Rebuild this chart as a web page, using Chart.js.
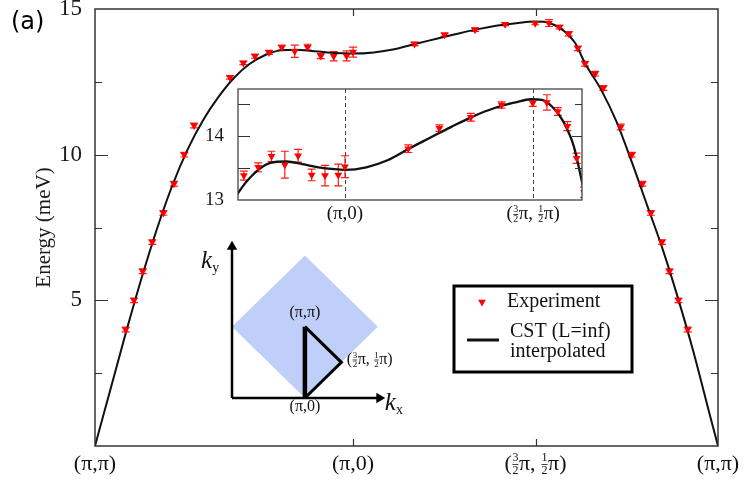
<!DOCTYPE html>
<html>
<head>
<meta charset="utf-8">
<script src="https://cdn.jsdelivr.net/npm/chart.js@4.4.1/dist/chart.umd.min.js"></script>
<style>
  html, body { margin: 0; padding: 0; background: #fff; }
  #wrap { position: relative; width: 745px; height: 485px; overflow: hidden; }
  canvas { position: absolute; }
  #mainChart { left: 0; top: 0; }
  #insetChart { left: 195px; top: 80px; }
  #bzChart { left: 190px; top: 228px; }
  #tag { position: absolute; left: 11px; top: 7px; font: 24px 'DejaVu Sans', sans-serif; color: #000; }
</style>
</head>
<body>
<div id="wrap">
  <canvas id="mainChart" width="745" height="485"></canvas>
  <canvas id="bzChart" width="260" height="200"></canvas>
  <canvas id="insetChart" width="405" height="150"></canvas>
  <div id="tag">(a)</div>
</div>
<script>
(function () {
  'use strict';

  const SERIF = "'Liberation Serif', 'Times New Roman', serif";

  // path (π,π) -> (π,0) -> (3π/2,π/2) -> (π,π), in units of π along the path
  const xTickValues = [0, 1, 1.7071, 2.4142];
  const xTickLabels = ['(π,π)', '(π,0)', '(3/2π, 1/2π)', '(π,π)'];
  const yTickValues = [5, 10, 15];
  const yMinorTicks = [2.5, 7.5, 12.5];

  // CST (L=inf) interpolated
  const curveX = [0, 0.06, 0.12, 0.18, 0.24, 0.30, 0.36, 0.42, 0.48, 0.54, 0.60, 0.66, 0.72, 0.78, 0.84, 0.90, 0.96, 1.00,
    1.08, 1.16, 1.24, 1.32, 1.40, 1.48, 1.56, 1.64, 1.70, 1.74, 1.78, 1.82, 1.86, 1.90, 1.96, 2.02, 2.08, 2.14, 2.20,
    2.26, 2.32, 2.38, 2.4142];
  const curveE = [0, 1.95, 3.9, 5.75, 7.45, 8.95, 10.2, 11.2, 12.0, 12.65, 13.12, 13.42, 13.58, 13.6, 13.56, 13.51, 13.48, 13.47,
    13.51, 13.62, 13.8, 13.97, 14.14, 14.3, 14.43, 14.52, 14.57, 14.56, 14.45, 14.23, 13.84, 13.12, 12.25, 11.15, 9.75, 8.25, 6.75,
    5.05, 3.2, 1.15, 0];

  // Experiment
  const expX = [0.119, 0.151, 0.185, 0.222, 0.265, 0.306, 0.346, 0.384, 0.523, 0.575, 0.620, 0.674, 0.724, 0.774, 0.824,
    0.875, 0.925, 0.975, 1.000, 1.238, 1.355, 1.473, 1.589, 1.706, 1.759, 1.800, 1.836, 1.871, 1.899, 1.938, 1.970,
    2.037, 2.080, 2.121, 2.154, 2.197, 2.226, 2.261, 2.297];
  const expE = [4.0, 5.0, 6.0, 7.0, 8.0, 9.0, 10.0, 11.0, 12.65, 13.15, 13.38, 13.51, 13.68, 13.55, 13.69,
    13.39, 13.38, 13.39, 13.52, 13.8, 14.12, 14.29, 14.48, 14.51, 14.52, 14.38, 14.15, 13.65, 13.12, 12.78, 12.29,
    10.95, 10.0, 9.0, 8.0, 7.0, 6.0, 5.0, 4.0];
  const expErr = [0.08, 0.08, 0.08, 0.08, 0.08, 0.08, 0.08, 0.08, 0.06, 0.06, 0.07, 0.07, 0.08, 0.21, 0.1,
    0.09, 0.16, 0.17, 0.17, 0.06, 0.05, 0.06, 0.05, 0.05, 0.12, 0.06, 0.07, 0.08, 0.08, 0.08, 0.08,
    0.1, 0.08, 0.08, 0.08, 0.08, 0.08, 0.08, 0.08];

  // inset
  const insetXRange = [0.598, 1.891];
  const insetYRange = [13, 14.73];
  const insetYTicks = [13, 14];
  const insetYMinor = [13.5, 14.5];
  const insetMarks = [1, 1.7071];
  const insetMarkLabels = ['(π,0)', '(3/2π, 1/2π)'];

  // Brillouin zone sketch, k in units of π
  const bzDiamond = [[0, 1], [1, 2], [2, 1], [1, 0], [0, 1]];
  const bzPath = [[1, 1], [1, 0], [1.5, 0.5], [1, 1]];
  const bzKyAxis = [[0, 0], [0, 2.12]];
  const bzKxAxis = [[0, 0], [2.02, 0]];
  const bzLabelText = ['(π,π)', '(3/2π, 1/2π)', '(π,0)', 'k_y', 'k_x'];
  const bzLabelX = [1, 1.575, 1, -0.3, 2.22];
  const bzLabelY = [1.19, 0.54, -0.12, 1.92, -0.07];
  const bzLabelAlign = ['center', 'left', 'center', 'center', 'center'];

  const pts = (xs, ys) => xs.map((x, i) => ({ x: x, y: ys[i] }));
  const pairs = (arr) => arr.map((p) => ({ x: p[0], y: p[1] }));

  // text with stacked fractions ("3/2") and subscripts ("_y")
  function drawLabel(ctx, text, cx, cy, size, opts) {
    opts = opts || {};
    const style = opts.italic ? 'italic ' : '';
    const small = Math.round(size * 0.55);
    const items = text.split(/(\d+\/\d+|_\w)/).filter(Boolean).map((p) => {
      const m = p.match(/^(\d+)\/(\d+)$/);
      if (m) {
        ctx.font = small + 'px ' + SERIF;
        return { num: m[1], den: m[2], w: Math.max(ctx.measureText(m[1]).width, ctx.measureText(m[2]).width) + 1 };
      }
      if (p[0] === '_') {
        ctx.font = small + 'px ' + SERIF;
        return { sub: p.slice(1), w: ctx.measureText(p.slice(1)).width };
      }
      ctx.font = style + size + 'px ' + SERIF;
      return { text: p, w: ctx.measureText(p).width };
    });
    const total = items.reduce((s, it) => s + it.w, 0);
    let x = opts.align === 'left' ? cx : cx - total / 2;
    ctx.save();
    ctx.fillStyle = '#111';
    ctx.strokeStyle = '#111';
    ctx.textBaseline = 'middle';
    items.forEach((it) => {
      if (it.num) {
        ctx.font = small + 'px ' + SERIF;
        ctx.textAlign = 'center';
        ctx.fillText(it.num, x + it.w / 2, cy - small * 0.48);
        ctx.fillText(it.den, x + it.w / 2, cy + small * 0.55);
        ctx.lineWidth = 0.8;
        ctx.beginPath();
        ctx.moveTo(x + 0.5, cy + 0.5);
        ctx.lineTo(x + it.w - 0.5, cy + 0.5);
        ctx.stroke();
      } else if (it.sub) {
        ctx.font = small + 'px ' + SERIF;
        ctx.textAlign = 'left';
        ctx.fillText(it.sub, x, cy + size * 0.3);
      } else {
        ctx.font = style + size + 'px ' + SERIF;
        ctx.textAlign = 'left';
        ctx.fillText(it.text, x, cy);
      }
      x += it.w;
    });
    ctx.restore();
  }

  function drawErrorBars(chart, cap) {
    const { ctx, chartArea: a, scales } = chart;
    ctx.save();
    ctx.beginPath();
    ctx.rect(a.left, a.top, a.right - a.left, a.bottom - a.top);
    ctx.clip();
    ctx.strokeStyle = '#ff1a1a';
    ctx.lineWidth = 1.2;
    expX.forEach((xv, i) => {
      const px = scales.x.getPixelForValue(xv);
      const y1 = scales.y.getPixelForValue(expE[i] - expErr[i]);
      const y2 = scales.y.getPixelForValue(expE[i] + expErr[i]);
      ctx.beginPath();
      ctx.moveTo(px, y1); ctx.lineTo(px, y2);
      ctx.moveTo(px - cap, y1); ctx.lineTo(px + cap, y1);
      ctx.moveTo(px - cap, y2); ctx.lineTo(px + cap, y2);
      ctx.stroke();
    });
    ctx.restore();
  }

  function drawYTicks(chart, values, lenL, lenR) {
    const { ctx, chartArea: a, scales } = chart;
    ctx.save();
    ctx.strokeStyle = '#333';
    ctx.lineWidth = 1.2;
    values.forEach((v) => {
      const py = Math.round(scales.y.getPixelForValue(v)) + 0.5;
      ctx.beginPath();
      ctx.moveTo(a.left, py); ctx.lineTo(a.left + lenL, py);
      ctx.moveTo(a.right, py); ctx.lineTo(a.right - lenR, py);
      ctx.stroke();
    });
    ctx.restore();
  }

  function drawFrame(chart, width, color) {
    const { ctx, chartArea: a } = chart;
    ctx.save();
    ctx.strokeStyle = color;
    ctx.lineWidth = width;
    ctx.strokeRect(a.left, a.top, a.right - a.left, a.bottom - a.top);
    ctx.restore();
  }

  // keep the plot box where the layout padding puts it
  function noLabelPadding(s) {
    s.paddingTop = 0;
    s.paddingBottom = 0;
  }

  const mainDecor = {
    id: 'mainDecor',
    beforeDatasetsDraw(chart) {
      drawErrorBars(chart, 4);
    },
    afterDraw(chart) {
      const { ctx, chartArea: a, scales } = chart;
      drawFrame(chart, 1.5, '#333');
      drawYTicks(chart, yTickValues.slice(0, 2), 13, 13);
      drawYTicks(chart, yMinorTicks, 7, 7);
      ctx.save();
      ctx.strokeStyle = '#333';
      ctx.lineWidth = 1.2;
      xTickValues.slice(1, 3).forEach((v) => {
        const px = Math.round(scales.x.getPixelForValue(v)) + 0.5;
        ctx.beginPath();
        ctx.moveTo(px, a.bottom); ctx.lineTo(px, a.bottom - 7);
        ctx.moveTo(px, a.top); ctx.lineTo(px, a.top + 7);
        ctx.stroke();
      });
      ctx.restore();
      xTickValues.forEach((v, i) => {
        drawLabel(ctx, xTickLabels[i], scales.x.getPixelForValue(v), a.bottom + 18, 22);
      });

      // legend box
      const exp = chart.data.datasets[0];
      const cst = chart.data.datasets[1];
      ctx.save();
      ctx.strokeStyle = '#000';
      ctx.lineWidth = 3;
      ctx.strokeRect(454, 286, 178, 86);
      ctx.fillStyle = exp.pointBackgroundColor;
      ctx.strokeStyle = exp.pointBackgroundColor;
      Chart.helpers.drawPoint(ctx, { pointStyle: 'triangle', rotation: 180, radius: 4.5, borderWidth: 0 }, 482, 302);
      ctx.strokeStyle = cst.borderColor;
      ctx.lineWidth = 3;
      ctx.beginPath();
      ctx.moveTo(467, 340); ctx.lineTo(499, 340);
      ctx.stroke();
      ctx.fillStyle = '#111';
      ctx.font = '20px ' + SERIF;
      ctx.textAlign = 'left';
      ctx.textBaseline = 'middle';
      ctx.fillText(exp.label, 507, 302);
      cst.label.forEach((line, i) => ctx.fillText(line, 510, 332 + i * 20));
      ctx.restore();
    }
  };

  new Chart(document.getElementById('mainChart'), {
    type: 'line',
    data: {
      datasets: [
        {
          label: 'Experiment',
          data: pts(expX, expE),
          showLine: false,
          pointStyle: 'triangle',
          rotation: 180,
          pointRadius: 4.5,
          pointBackgroundColor: '#ff0000',
          pointBorderColor: '#ff0000',
          pointBorderWidth: 0,
        },
        {
          label: ['CST (L=inf)', 'interpolated'],
          data: pts(curveX, curveE),
          borderColor: '#111',
          borderWidth: 2,
          pointRadius: 0,
          cubicInterpolationMode: 'monotone',
        },
      ],
    },
    options: {
      responsive: false,
      animation: false,
      layout: { padding: { left: 0, right: 27, top: 9, bottom: 0 } },
      plugins: { legend: { display: false }, tooltip: { enabled: false } },
      scales: {
        x: {
          type: 'linear',
          min: 0,
          max: 2.4142,
          afterBuildTicks: (s) => { s.ticks = xTickValues.map((v) => ({ value: v })); },
          afterFit: (s) => { s.height = 39; },
          grid: { display: false },
          border: { display: false },
          ticks: { display: false },
        },
        y: {
          type: 'linear',
          min: 0,
          max: 15,
          afterBuildTicks: (s) => { s.ticks = yTickValues.map((v) => ({ value: v })); },
          afterFit: (s) => { s.width = 95; noLabelPadding(s); },
          grid: { display: false },
          border: { display: false },
          ticks: { font: { family: SERIF, size: 23 }, color: '#1a1a1a', padding: 5 },
          title: {
            display: true,
            text: 'Energy (meV)',
            font: { family: SERIF, size: 21 },
            color: '#1a1a1a',
            padding: { top: 32, bottom: 0 },
          },
        },
      },
    },
    plugins: [mainDecor],
  });

  const insetDecor = {
    id: 'insetDecor',
    beforeDatasetsDraw(chart) {
      const { ctx, chartArea: a, scales } = chart;
      ctx.save();
      ctx.strokeStyle = '#444';
      ctx.lineWidth = 1;
      ctx.setLineDash([4, 3]);
      insetMarks.forEach((v) => {
        const px = Math.round(scales.x.getPixelForValue(v)) + 0.5;
        ctx.beginPath();
        ctx.moveTo(px, a.top); ctx.lineTo(px, a.bottom);
        ctx.stroke();
      });
      ctx.restore();
      drawErrorBars(chart, 4);
    },
    afterDraw(chart) {
      const { ctx, chartArea: a, scales } = chart;
      drawFrame(chart, 1.3, '#444');
      drawYTicks(chart, [14], 12, 10);
      drawYTicks(chart, insetYMinor, 12, 7);
      insetMarks.forEach((v, i) => {
        drawLabel(ctx, insetMarkLabels[i], scales.x.getPixelForValue(v), a.bottom + 14, 19);
      });
    }
  };

  new Chart(document.getElementById('insetChart'), {
    type: 'line',
    data: {
      datasets: [
        {
          label: 'Experiment',
          data: pts(expX, expE),
          showLine: false,
          pointStyle: 'triangle',
          rotation: 180,
          pointRadius: 4.5,
          pointBackgroundColor: '#ff0000',
          pointBorderColor: '#ff0000',
          pointBorderWidth: 0,
        },
        {
          label: 'CST (L=inf) interpolated',
          data: pts(curveX, curveE),
          borderColor: '#111',
          borderWidth: 2.3,
          pointRadius: 0,
          cubicInterpolationMode: 'monotone',
        },
      ],
    },
    options: {
      responsive: false,
      animation: false,
      layout: { padding: { left: 0, right: 18, top: 9, bottom: 0 } },
      plugins: { legend: { display: false }, tooltip: { enabled: false } },
      scales: {
        x: {
          type: 'linear',
          min: insetXRange[0],
          max: insetXRange[1],
          afterFit: (s) => { s.height = 30; },
          grid: { display: false },
          border: { display: false },
          ticks: { display: false },
        },
        y: {
          type: 'linear',
          min: insetYRange[0],
          max: insetYRange[1],
          afterBuildTicks: (s) => { s.ticks = insetYTicks.map((v) => ({ value: v })); },
          afterFit: (s) => { s.width = 43; noLabelPadding(s); },
          grid: { display: false },
          border: { display: false },
          ticks: { font: { family: SERIF, size: 19 }, color: '#1a1a1a', padding: 6 },
        },
      },
    },
    plugins: [insetDecor],
  });

  const bzDecor = {
    id: 'bzDecor',
    afterDraw(chart) {
      const { ctx, scales } = chart;
      bzLabelText.forEach((t, i) => {
        const isK = t[0] === 'k';
        drawLabel(ctx, t, scales.x.getPixelForValue(bzLabelX[i]), scales.y.getPixelForValue(bzLabelY[i]),
          isK ? 25 : 16, { align: bzLabelAlign[i], italic: isK });
      });
    }
  };

  new Chart(document.getElementById('bzChart'), {
    type: 'line',
    data: {
      datasets: [
        {
          label: 'ky',
          data: pairs(bzKyAxis),
          borderColor: '#000',
          borderWidth: 2.5,
          pointStyle: 'triangle',
          rotation: 0,
          pointRadius: [0, 6],
          pointBackgroundColor: '#000',
          pointBorderWidth: 0,
          clip: false,
        },
        {
          label: 'kx',
          data: pairs(bzKxAxis),
          borderColor: '#000',
          borderWidth: 2.5,
          pointStyle: 'triangle',
          rotation: 90,
          pointRadius: [0, 6],
          pointBackgroundColor: '#000',
          pointBorderWidth: 0,
          clip: false,
        },
        {
          label: 'path',
          data: pairs(bzPath),
          borderColor: '#000',
          borderWidth: 3,
          borderJoinStyle: 'miter',
          pointRadius: 0,
          segment: { borderWidth: (c) => (c.p0DataIndex === 0 ? 4.5 : 3) },
          clip: false,
        },
        {
          label: 'zone',
          data: pairs(bzDiamond),
          borderWidth: 0,
          borderColor: 'rgba(0,0,0,0)',
          backgroundColor: '#bfcffa',
          fill: 'shape',
          pointRadius: 0,
          clip: false,
        },
      ],
    },
    options: {
      responsive: false,
      animation: false,
      layout: { padding: { left: 42, right: 43, top: 0, bottom: 30 } },
      plugins: { legend: { display: false }, tooltip: { enabled: false } },
      scales: {
        x: { type: 'linear', min: 0, max: 2.4, display: false },
        y: { type: 'linear', min: 0, max: 2.3, display: false },
      },
    },
    plugins: [bzDecor],
  });
})();
</script>
</body>
</html>
